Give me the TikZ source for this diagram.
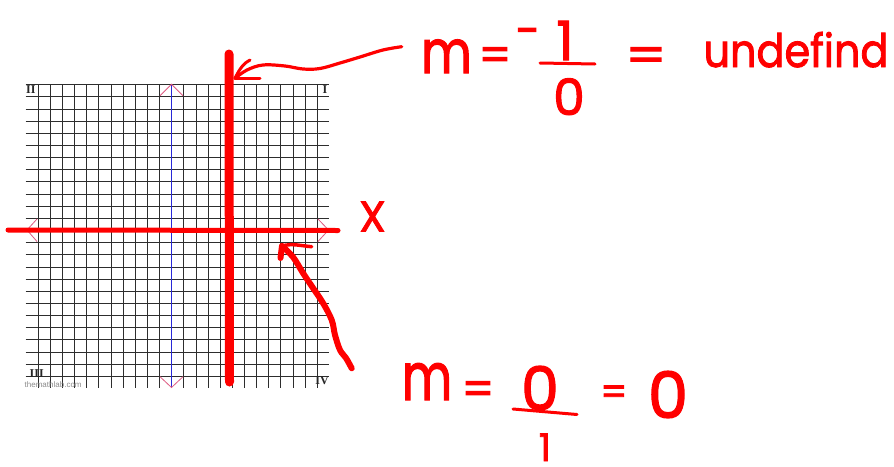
\documentclass[tikz,border=0pt]{standalone}
\usepackage{fontspec}
\setmainfont{Poppins}
\newfontfamily\handfont[FakeBold=2]{Poppins}
\newfontfamily\gridserif{Liberation Serif}
\newfontfamily\gridsans{Liberation Sans}
\definecolor{hand}{RGB}{255,0,0}
\definecolor{pinkarrow}{RGB}{222,90,130}
\definecolor{axisblue}{RGB}{40,40,215}
\definecolor{gridgray}{RGB}{45,45,45}
\tikzset{
  gridline/.style={draw=gridgray, line width=1.2pt},
  pinkhead/.style={draw=pinkarrow, line width=0.8pt},
  handline/.style={draw=hand, line cap=round, line join=round},
  handtext/.style={text=hand, inner sep=0pt, anchor=base},
  gridlabel/.style={inner sep=0pt, font=\gridserif\bfseries\fontsize{12}{12}\selectfont, text=black!85},
}
\begin{document}
\begin{tikzpicture}[x=1pt,y=-1pt]
\useasboundingbox[fill=white] (0,0) rectangle (894,466);
% grid
\foreach \j in {0,...,24}
  \draw[gridline] (25.7,{round(84.3+12.15*\j)+0.5}) -- (328.9,{round(84.3+12.15*\j)+0.5});
\foreach \k in {1,...,24}
  \draw[gridline] ({round(25.7+12.13*\k)+0.5},84.3) -- ({round(25.7+12.13*\k)+0.5},388);
% y axis (blue) with pink heads
\draw[draw=axisblue, line width=1.6pt] (171.5,84.3) -- (171.5,388);
\draw[pinkhead] (160,95.7) -- (171.5,84.3) -- (183,95.7);
\draw[pinkhead] (160,376.7) -- (171.5,387.5) -- (183,376.7);
\draw[pinkhead] (37,219) -- (27,230) -- (37,241.5);
\draw[pinkhead] (318,219) -- (328.5,230) -- (318,241.5);
% quadrant labels
\node[gridlabel, anchor=west] (q2) at (26,90) {II};
\node[gridlabel, anchor=east] (q1) at (327.5,90) {I};
\node[gridlabel, anchor=west] (q3) at (29.5,374) {III};
\node[gridlabel, anchor=east] (q4) at (329,381) {IV};
\node[inner sep=0pt, anchor=west, text=black!45, font=\gridsans\fontsize{8}{8}\selectfont] (site) at (24.5,384.5) {themathlab.com};
% red lines
\draw[handline, line width=5pt] (8,230) -- (338,230.5);
\draw[handline, line width=9pt] (229,54) -- (229.5,382);
% top formula
\node[handtext, font=\handfont\fontsize{60}{60}\selectfont, xscale=0.82] (m1) at (446.5,73) {m};
\node[handtext, font=\handfont\fontsize{46}{46}\selectfont] (eq1) at (495,71) {=};
\node[handtext, font=\handfont\fontsize{44}{44}\selectfont] (neg) at (528,46) {-};
\node[handtext, font=\handfont\fontsize{54}{54}\selectfont] (one1) at (565,60) {1};
\draw[handline, line width=3pt] (540,63) -- (595,64);
\node[handtext, font=\handfont\fontsize{50}{50}\selectfont] (zero1) at (569,115) {0};
\node[handtext, font=\handfont\fontsize{48}{48}\selectfont, xscale=1.2] (eq2) at (646,72) {=};
\node[handtext, font=\handfont\fontsize{46}{46}\selectfont, xscale=0.9] (undef) at (796,67) {undefind};
% x label
\node[handtext, anchor=center, font=\handfont\fontsize{43}{43}\selectfont] (xlab) at (372.5,216.5) {X};
% bottom formula
\node[handtext, font=\handfont\fontsize{66}{66}\selectfont, xscale=0.74] (m2) at (427,400) {m};
\node[handtext, font=\handfont\fontsize{46}{46}\selectfont] (eq3) at (478,405) {=};
\node[handtext, font=\handfont\fontsize{60}{60}\selectfont] (zero2) at (540,410) {0};
\draw[handline, line width=3pt] (513,409) -- (577,414.5);
\node[handtext, font=\handfont\fontsize{38}{38}\selectfont] (one2) at (545,461) {1};
\node[handtext, font=\handfont\fontsize{38}{38}\selectfont] (eq4) at (614,405) {=};
\node[handtext, font=\handfont\fontsize{64}{64}\selectfont] (zero3) at (668,418) {0};
% top arrow
\coordinate (tA) at (401.7,46.7);
\coordinate (tB) at (235,78.3);
\draw[handline, line width=3.2pt] plot[smooth, tension=0.6] coordinates
  {(tA) (383,50) (360,57) (340,63) (320,68.5) (303,69) (285,66) (263,65) (247,70) (tB)};
\draw[handline, line width=3pt] (tB) .. controls (240,68) and (244,63) .. (250,60);
\draw[handline, line width=3pt] (tB) -- (260,78.3);
% bottom arrow
\coordinate (bA) at (351.7,368.3);
\coordinate (bB) at (282,246);
\draw[handline, line width=6pt] plot[smooth, tension=0.6] coordinates
  {(bA) (346,358) (340,350) (335,335) (331.7,320) (323,303) (313,288) (303,273) (293,257) (bB)};
\draw[handline, line width=6pt] (bB) -- (280.5,258);
\draw[handline, line width=3.5pt] (bB) .. controls (292,243) and (302,246) .. (311.7,246.7);
\end{tikzpicture}
\end{document}
